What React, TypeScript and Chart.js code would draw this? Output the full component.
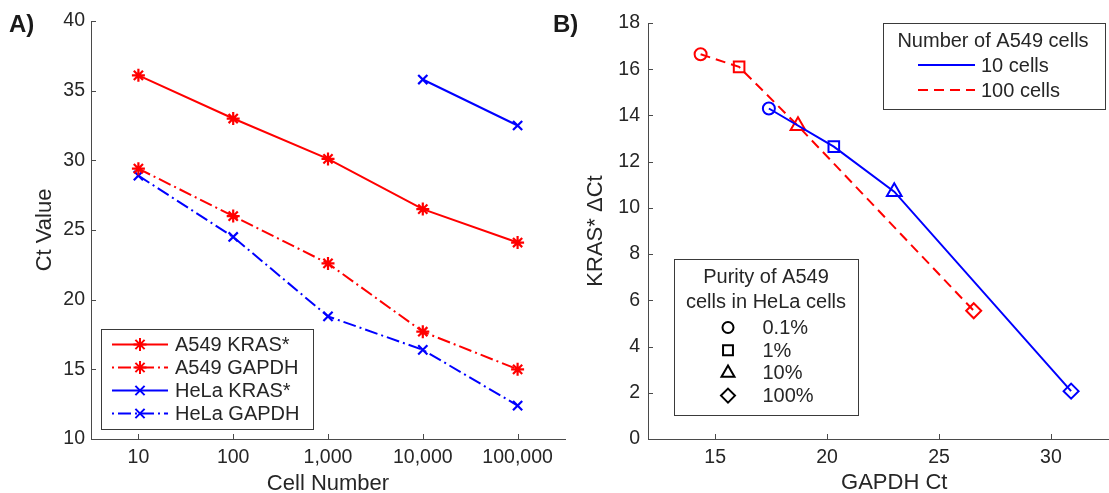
import React, { useEffect, useRef } from 'react';
import { Chart, registerables } from 'chart.js';

Chart.register(...registerables);

// ---------- Data (panel A) ----------
const cellNumbers = [10, 100, 1000, 10000, 100000];
const a549Kras = [36.1, 33.0, 30.1, 26.5, 24.1];
const a549Gapdh = [29.4, 26.0, 22.6, 17.7, 15.0];
const helaKras: (number | null)[] = [null, null, null, 35.8, 32.5];
const helaGapdh = [28.9, 24.5, 18.8, 16.4, 12.4];
const ctTicks = [10, 15, 20, 25, 30, 35, 40];

// ---------- Data (panel B) ----------
const purityLabels = ['0.1%', '1%', '10%', '100%'];
const gapdh10 = [17.4, 20.3, 23.0, 30.9];
const dct10 = [14.3, 12.65, 10.7, 2.07];
const gapdh100 = [14.35, 16.07, 18.7, 26.55];
const dct100 = [16.65, 16.1, 13.55, 5.55];
const gapdhTicks = [15, 20, 25, 30];
const dctTicks = [0, 2, 4, 6, 8, 10, 12, 14, 16, 18];

// ---------- Styles ----------
const RED = '#ff0000';
const BLUE = '#0000ff';
const TEXT = '#262626';
const AXIS = '#4a4a4a';
const FONT = '"Liberation Sans", Arial, Helvetica, sans-serif';
const TICK_SIZE = 19.5;
const TITLE_SIZE = 22;
const LEG_SIZE = 20;
const DASHDOT = [13, 4, 2, 4];
const DASH = [10, 6];
const purityStyles = ['circle', 'rect', 'triangle', 'rectRot'];
const puritySizes = [6, 7.5, 8.5, 7.5];
const legendPuritySizes = [5.5, 7, 7.5, 7];

// panel A geometry (canvas-local)
const A_W = 575, A_H = 493;
const A_LEFT = 91, A_TOP = 21, A_RIGHT = 565, A_BOTTOM = 439;
// panel B geometry (canvas-local; canvas starts at x=575)
const B_X = 575;
const B_W = 575, B_H = 493;
const B_LEFT = 73, B_TOP = 23, B_RIGHT = 568, B_BOTTOM = 439;

function drawMarker(ctx: CanvasRenderingContext2D, style: string, x: number, y: number, r: number, color: string) {
  ctx.save();
  ctx.strokeStyle = color;
  ctx.lineWidth = 2;
  ctx.setLineDash([]);
  ctx.beginPath();
  if (style === 'star') {
    for (let k = 0; k < 4; k++) {
      const a = (k * Math.PI) / 4;
      ctx.moveTo(x - Math.cos(a) * r, y - Math.sin(a) * r);
      ctx.lineTo(x + Math.cos(a) * r, y + Math.sin(a) * r);
    }
  } else if (style === 'crossRot') {
    const d = r * Math.SQRT1_2;
    ctx.moveTo(x - d, y - d); ctx.lineTo(x + d, y + d);
    ctx.moveTo(x - d, y + d); ctx.lineTo(x + d, y - d);
  } else if (style === 'circle') {
    ctx.arc(x, y, r, 0, Math.PI * 2);
  } else if (style === 'rect') {
    const d = r * Math.SQRT1_2;
    ctx.rect(x - d, y - d, 2 * d, 2 * d);
  } else if (style === 'triangle') {
    for (let k = 0; k < 3; k++) {
      const a = (k * 2 * Math.PI) / 3;
      const px = x + Math.sin(a) * r, py = y - Math.cos(a) * r;
      if (k === 0) ctx.moveTo(px, py); else ctx.lineTo(px, py);
    }
    ctx.closePath();
  } else if (style === 'rectRot') {
    ctx.moveTo(x, y - r); ctx.lineTo(x + r, y); ctx.lineTo(x, y + r); ctx.lineTo(x - r, y); ctx.closePath();
  }
  ctx.stroke();
  ctx.restore();
}

function inwardTicks(chart: any) {
  const ctx: CanvasRenderingContext2D = chart.ctx;
  const { x, y } = chart.scales;
  const area = chart.chartArea;
  ctx.save();
  ctx.strokeStyle = AXIS;
  ctx.lineWidth = 1;
  ctx.beginPath();
  x.ticks.forEach((t: any) => {
    const px = Math.round(x.getPixelForValue(t.value)) + 0.5;
    ctx.moveTo(px, area.bottom);
    ctx.lineTo(px, area.bottom - 5);
  });
  y.ticks.forEach((t: any) => {
    const py = Math.round(y.getPixelForValue(t.value)) + 0.5;
    ctx.moveTo(area.left, py);
    ctx.lineTo(area.left + 5, py);
  });
  ctx.stroke();
  ctx.restore();
}

function text(ctx: CanvasRenderingContext2D, s: string, x: number, y: number, size: number, align: CanvasTextAlign, rot = 0) {
  ctx.save();
  ctx.fillStyle = TEXT;
  ctx.font = `${size}px ${FONT}`;
  ctx.textAlign = align;
  ctx.textBaseline = 'alphabetic';
  ctx.translate(x, y);
  if (rot) ctx.rotate(rot);
  ctx.fillText(s, 0, 0);
  ctx.restore();
}

function box(ctx: CanvasRenderingContext2D, x: number, y: number, w: number, h: number) {
  ctx.save();
  ctx.fillStyle = '#ffffff';
  ctx.fillRect(x, y, w, h);
  ctx.strokeStyle = '#3a3a3a';
  ctx.lineWidth = 1;
  ctx.strokeRect(Math.round(x) + 0.5, Math.round(y) + 0.5, Math.round(w), Math.round(h));
  ctx.restore();
}

function legendLine(ctx: CanvasRenderingContext2D, x1: number, x2: number, y: number, color: string, dash: number[], offset = 0) {
  ctx.save();
  ctx.strokeStyle = color;
  ctx.lineWidth = 2;
  ctx.setLineDash(dash);
  ctx.lineDashOffset = offset;
  ctx.beginPath();
  ctx.moveTo(x1, y);
  ctx.lineTo(x2, y);
  ctx.stroke();
  ctx.restore();
}

const decorA = {
  id: 'decorA',
  afterDraw(chart: any) {
    const ctx: CanvasRenderingContext2D = chart.ctx;
    inwardTicks(chart);
    const area = chart.chartArea;
    text(ctx, 'Ct Value', 51, (area.top + area.bottom) / 2, TITLE_SIZE, 'center', -Math.PI / 2);
    text(ctx, 'Cell Number', (area.left + area.right) / 2, 490, TITLE_SIZE, 'center');
    // legend
    box(ctx, 101, 329, 212, 100);
    chart.data.datasets.forEach((ds: any, i: number) => {
      const yy = 344.5 + i * 23;
      legendLine(ctx, 112, 168, yy, ds.borderColor, ds.borderDash || [], ds.borderDash && ds.borderDash.length ? 17 : 0);
      drawMarker(ctx, ds.pointStyle, 140, yy, ds.pointRadius, ds.borderColor);
      ctx.save();
      ctx.fillStyle = TEXT;
      ctx.font = `${LEG_SIZE}px ${FONT}`;
      ctx.textAlign = 'left';
      ctx.textBaseline = 'middle';
      ctx.fillText(ds.label, 175, yy + 1);
      ctx.restore();
    });
  },
};

const decorB = {
  id: 'decorB',
  afterDraw(chart: any) {
    const ctx: CanvasRenderingContext2D = chart.ctx;
    inwardTicks(chart);
    const area = chart.chartArea;
    text(ctx, 'KRAS* \u0394Ct', 27, (area.top + area.bottom) / 2, TITLE_SIZE, 'center', -Math.PI / 2);
    text(ctx, 'GAPDH Ct', (area.left + area.right) / 2, 489, TITLE_SIZE, 'center');

    // legend 1: number of cells
    box(ctx, 883 - B_X, 23, 222, 86);
    ctx.save();
    ctx.fillStyle = TEXT;
    ctx.font = `${LEG_SIZE}px ${FONT}`;
    ctx.textBaseline = 'middle';
    ctx.textAlign = 'center';
    ctx.fillText('Number of A549 cells', 993 - B_X, 41);
    ctx.restore();
    chart.data.datasets.forEach((ds: any, i: number) => {
      const yy = 65 + i * 25;
      legendLine(ctx, 918 - B_X, 975 - B_X, yy, ds.borderColor, ds.borderDash || []);
      ctx.save();
      ctx.fillStyle = TEXT;
      ctx.font = `${LEG_SIZE}px ${FONT}`;
      ctx.textAlign = 'left';
      ctx.textBaseline = 'middle';
      ctx.fillText(ds.label, 981 - B_X, yy + 1);
      ctx.restore();
    });

    // legend 2: purity
    box(ctx, 674 - B_X, 259, 184, 156);
    ctx.save();
    ctx.fillStyle = TEXT;
    ctx.font = `${LEG_SIZE}px ${FONT}`;
    ctx.textBaseline = 'middle';
    ctx.textAlign = 'center';
    ctx.fillText('Purity of A549', 766 - B_X, 277);
    ctx.fillText('cells in HeLa cells', 766 - B_X, 302);
    ctx.textAlign = 'left';
    purityLabels.forEach((lab, i) => {
      const yy = 327.5 + i * 22.7;
      drawMarker(ctx, purityStyles[i], 728 - B_X, yy, legendPuritySizes[i], '#000000');
      ctx.fillStyle = TEXT;
      ctx.fillText(lab, 762.5 - B_X, yy + 1);
    });
    ctx.restore();
  },
};

function tickFont() {
  return { family: FONT, size: TICK_SIZE };
}

export default function App() {
  const refA = useRef<HTMLCanvasElement>(null);
  const refB = useRef<HTMLCanvasElement>(null);

  useEffect(() => {
    const mk = (vals: (number | null)[]) => cellNumbers.map((c, i) => ({ x: c, y: vals[i] }));
    const lineDs = (label: string, vals: (number | null)[], color: string, dash: number[], style: string, r: number) => ({
      label,
      data: mk(vals),
      borderColor: color,
      backgroundColor: color,
      borderWidth: 2,
      borderDash: dash,
      pointStyle: style,
      pointRadius: r,
      pointBorderWidth: 2.2,
      pointBorderColor: color,
      pointBackgroundColor: color,
      spanGaps: false,
      tension: 0,
    });

    const chartA = new Chart(refA.current as HTMLCanvasElement, {
      type: 'line',
      data: {
        datasets: [
          lineDs('A549 KRAS*', a549Kras, RED, [], 'star', 6.5),
          lineDs('A549 GAPDH', a549Gapdh, RED, DASHDOT, 'star', 6.5),
          lineDs('HeLa KRAS*', helaKras, BLUE, [], 'crossRot', 6.5),
          lineDs('HeLa GAPDH', helaGapdh, BLUE, DASHDOT, 'crossRot', 6.5),
        ] as any,
      },
      options: {
        responsive: false,
        animation: false,
        devicePixelRatio: 1,
        layout: { padding: { top: A_TOP, right: A_W - A_RIGHT, left: 0, bottom: 0 } },
        plugins: { legend: { display: false }, tooltip: { enabled: false } },
        scales: {
          x: {
            type: 'logarithmic',
            min: Math.pow(10, 0.5),
            max: Math.pow(10, 5.5),
            afterBuildTicks: (s: any) => { s.ticks = cellNumbers.map((v) => ({ value: v })); },
            afterFit: (s: any) => { s.height = A_H - A_BOTTOM; },
            grid: { display: true, drawOnChartArea: false, drawTicks: false },
            border: { display: true, color: AXIS, width: 1 },
            ticks: {
              autoSkip: false,
              maxRotation: 0,
              padding: 7,
              color: TEXT,
              font: tickFont(),
              callback: (v: any) => Number(v).toLocaleString('en-US'),
            },
          },
          y: {
            type: 'linear',
            min: 10,
            max: 40,
            afterBuildTicks: (s: any) => { s.ticks = ctTicks.map((v) => ({ value: v })); },
            afterFit: (s: any) => { s.width = A_LEFT; },
            grid: { display: true, drawOnChartArea: false, drawTicks: false },
            border: { display: true, color: AXIS, width: 1 },
            ticks: { padding: 6, color: TEXT, font: tickFont() },
          },
        },
      } as any,
      plugins: [decorA],
    });

    const mkB = (xs: number[], ys: number[]) => xs.map((x, i) => ({ x, y: ys[i] }));
    const chartB = new Chart(refB.current as HTMLCanvasElement, {
      type: 'scatter',
      data: {
        datasets: [
          {
            label: '10 cells',
            data: mkB(gapdh10, dct10),
            showLine: true,
            borderColor: BLUE,
            backgroundColor: 'rgba(0,0,0,0)',
            borderWidth: 2,
            borderDash: [],
            pointStyle: purityStyles,
            pointRadius: puritySizes,
            pointBorderWidth: 2,
            pointBorderColor: BLUE,
            pointBackgroundColor: 'rgba(0,0,0,0)',
          },
          {
            label: '100 cells',
            data: mkB(gapdh100, dct100),
            showLine: true,
            borderColor: RED,
            backgroundColor: 'rgba(0,0,0,0)',
            borderWidth: 2,
            borderDash: DASH,
            pointStyle: purityStyles,
            pointRadius: puritySizes,
            pointBorderWidth: 2,
            pointBorderColor: RED,
            pointBackgroundColor: 'rgba(0,0,0,0)',
          },
        ] as any,
      },
      options: {
        responsive: false,
        animation: false,
        devicePixelRatio: 1,
        layout: { padding: { top: B_TOP, right: B_W - B_RIGHT, left: 0, bottom: 0 } },
        plugins: { legend: { display: false }, tooltip: { enabled: false } },
        scales: {
          x: {
            type: 'linear',
            min: 12,
            max: 34,
            afterBuildTicks: (s: any) => { s.ticks = gapdhTicks.map((v) => ({ value: v })); },
            afterFit: (s: any) => { s.height = B_H - B_BOTTOM; },
            grid: { display: true, drawOnChartArea: false, drawTicks: false },
            border: { display: true, color: AXIS, width: 1 },
            ticks: { autoSkip: false, maxRotation: 0, padding: 7, color: TEXT, font: tickFont() },
          },
          y: {
            type: 'linear',
            min: 0,
            max: 18,
            afterBuildTicks: (s: any) => { s.ticks = dctTicks.map((v) => ({ value: v })); },
            afterFit: (s: any) => { s.width = B_LEFT; },
            grid: { display: true, drawOnChartArea: false, drawTicks: false },
            border: { display: true, color: AXIS, width: 1 },
            ticks: { padding: 8, color: TEXT, font: tickFont() },
          },
        },
      } as any,
      plugins: [decorB],
    });

    return () => {
      chartA.destroy();
      chartB.destroy();
    };
  }, []);

  const panelLabel: React.CSSProperties = {
    position: 'absolute',
    top: 12,
    fontFamily: FONT,
    fontWeight: 'bold',
    fontSize: 24,
    lineHeight: '24px',
    color: '#1a1a1a',
  };

  return (
    <div
      style={{
        position: 'absolute',
        left: 0,
        top: 0,
        width: 1109,
        height: 493,
        overflow: 'hidden',
        background: '#ffffff',
      }}
    >
      <canvas
        ref={refA}
        width={A_W}
        height={A_H}
        style={{ position: 'absolute', left: 0, top: 0, width: A_W, height: A_H }}
      />
      <canvas
        ref={refB}
        width={B_W}
        height={B_H}
        style={{ position: 'absolute', left: B_X, top: 0, width: B_W, height: B_H }}
      />
      <div style={{ ...panelLabel, left: 9 }}>A)</div>
      <div style={{ ...panelLabel, left: 553 }}>B)</div>
    </div>
  );
}
